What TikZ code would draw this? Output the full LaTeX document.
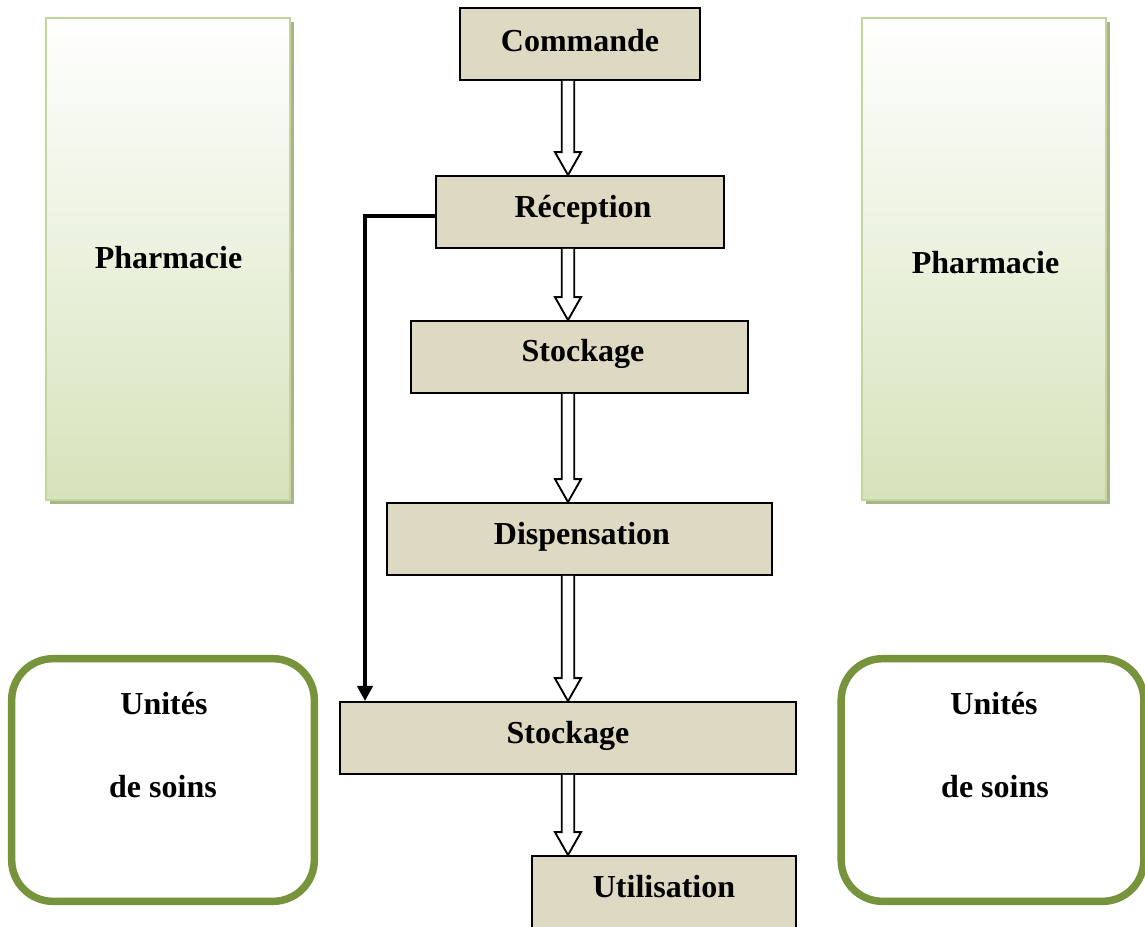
\documentclass[tikz,border=0pt]{standalone}
\usepackage{fontspec}
\setmainfont{Liberation Serif}
\usetikzlibrary{calc,arrows.meta,shadows}
\definecolor{boxfill}{RGB}{221,217,195}
\definecolor{phborder}{RGB}{195,214,155}
\definecolor{phbottom}{RGB}{214,227,187}
\definecolor{phshadow}{RGB}{168,180,140}
\definecolor{uborder}{RGB}{119,147,60}
\tikzset{
  lbl/.style={font=\bfseries\fontsize{24pt}{28pt}\selectfont, inner sep=0pt, anchor=base},
  stepbox/.style={draw=black, line width=1.4pt, fill=boxfill, rectangle, inner sep=0pt},
  pharma/.style={draw=phborder, line width=1.5pt, rectangle, inner sep=0pt,
     top color=white, middle color=phbottom!45!white, bottom color=phbottom,
     minimum width=183pt, minimum height=361.5pt,
     drop shadow={shadow xshift=3pt, shadow yshift=-3pt, fill=phshadow, opacity=1}},
  unites/.style={draw=uborder, line width=5.6pt, rounded corners=31pt, rectangle, fill=white,
     minimum width=227pt, minimum height=182pt},
  hollowarrow/.style={draw=black, fill=white, line width=1.4pt, line join=miter},
  feed/.style={draw=black, line width=3pt, -{Triangle[length=11.5pt,width=11.5pt]}},
}
\newcommand\blockarrow[2]{%
  \draw[hollowarrow] let \p1=(#1.south -| axis), \p2=(#2.north -| axis) in
    (\x1-4.7pt,\y1) -- (\x1-4.7pt,\y2+17.25pt) -- (\x1-9.8pt,\y2+17.25pt) -- (\x2,\y2)
    -- (\x1+9.8pt,\y2+17.25pt) -- (\x1+4.7pt,\y2+17.25pt) -- (\x1+4.7pt,\y1);}
\begin{document}
\begin{tikzpicture}[x=0.75pt,y=-0.75pt]
\useasboundingbox (0,0) rectangle (1145,926);
\clip (0,0) rectangle (1145,926);
\fill[white] (0,0) rectangle (1145,926);
\coordinate (axis) at (568,0);

% Pharmacie columns
\node[pharma] (phL) at (168,259) {};
\node[lbl] (phLt) at (168.5,268) {Pharmacie};
\node[pharma] (phR) at (984,259) {};
\node[lbl] (phRt) at (985.5,273) {Pharmacie};

% Unites de soins
\node[unites] (uL) at (163,780) {};
\node[lbl] (uL1) at (164,714) {Unités};
\node[lbl] (uL2) at (163,797) {de soins};
\node[unites] (uR) at (992.5,780) {};
\node[lbl] (uR1) at (994,714) {Unités};
\node[lbl] (uR2) at (995,797) {de soins};

% Flow
\node[stepbox, minimum width=180pt, minimum height=54pt] (cmd) at (580,44) {};
\node[lbl] (cmdt) at (580,51) {Commande};
\node[stepbox, minimum width=216pt, minimum height=54pt] (rec) at (580,212) {};
\node[lbl] (rect) at (583,217) {Réception};
\node[stepbox, minimum width=252.75pt, minimum height=54pt] (stk1) at (579.5,357) {};
\node[lbl] (stk1t) at (583,361) {Stockage};
\node[stepbox, minimum width=288.75pt, minimum height=54pt] (disp) at (579.5,539) {};
\node[lbl] (dispt) at (582,544) {Dispensation};
\node[stepbox, minimum width=342pt, minimum height=54pt] (stk2) at (568,738) {};
\node[lbl] (stk2t) at (568,743) {Stockage};
\node[stepbox, minimum width=198pt, minimum height=54pt] (util) at (664,892) {};
\node[lbl] (utilt) at (664,897) {Utilisation};

\blockarrow{cmd}{rec}
\blockarrow{rec}{stk1}
\blockarrow{stk1}{disp}
\blockarrow{disp}{stk2}
\blockarrow{stk2}{util}

\coordinate (bend) at (365,216);
\draw[feed] (rec.west |- bend) -- (bend) -- (bend |- stk2.north);
\end{tikzpicture}
\end{document}
